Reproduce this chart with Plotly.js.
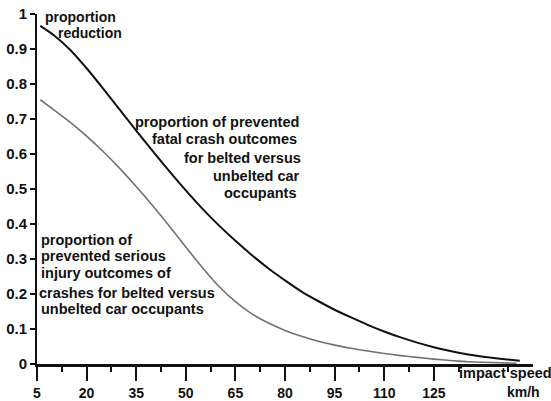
<!DOCTYPE html>
<html>
<head>
<meta charset="utf-8">
<script src="https://cdn.plot.ly/plotly-3.0.1.min.js"></script>
<style>html,body{margin:0;padding:0;background:#fff;}#chart{width:551px;height:401px;}</style>
</head>
<body>
<div id="chart"></div>
<script>
// Impact speed (km/h)
const speedFatal = [6, 10, 15, 20, 25, 30, 35, 40, 45, 50, 55, 60, 65, 70, 75, 80, 85, 90, 95, 100, 105, 110, 115, 120, 125, 130, 135, 140, 145, 151];
// proportion of prevented fatal crash outcomes (belted vs unbelted)
const fatalReduction = [0.966, 0.94, 0.898, 0.845, 0.787, 0.727, 0.667, 0.608, 0.551, 0.496, 0.444, 0.396, 0.352, 0.311, 0.273, 0.239, 0.207, 0.18, 0.155, 0.133, 0.112, 0.093, 0.076, 0.061, 0.048, 0.037, 0.028, 0.021, 0.015, 0.009];

const speedSerious = [6, 10, 15, 20, 25, 30, 35, 40, 45, 50, 55, 60, 65, 70, 75, 80, 85, 90, 95, 100, 105, 110, 115, 120, 125, 130, 135, 140, 145, 150];
// proportion of prevented serious injury outcomes (belted vs unbelted)
const seriousReduction = [0.755, 0.727, 0.691, 0.651, 0.607, 0.559, 0.507, 0.452, 0.394, 0.334, 0.276, 0.222, 0.178, 0.143, 0.117, 0.096, 0.079, 0.065, 0.054, 0.045, 0.037, 0.03, 0.024, 0.019, 0.014, 0.01, 0.0068, 0.005, 0.0035, 0.002];

const xTicks = [5, 20, 35, 50, 65, 80, 95, 110, 125];
const yTicks = [0, 0.1, 0.2, 0.3, 0.4, 0.5, 0.6, 0.7, 0.8, 0.9, 1];
const yTickLabels = ['0', '0.1', '0.2', '0.3', '0.4', '0.5', '0.6', '0.7', '0.8', '0.9', '1'];

const FONT = 'Liberation Sans, Arial, sans-serif';

const traces = [
  {x: speedFatal, y: fatalReduction, type: 'scatter', mode: 'lines',
   line: {color: '#111111', width: 2, shape: 'spline', smoothing: 0.6}, hoverinfo: 'skip'},
  {x: speedSerious, y: seriousReduction, type: 'scatter', mode: 'lines',
   line: {color: '#727272', width: 1.6, shape: 'spline', smoothing: 0.6}, hoverinfo: 'skip'}
];

// pixel -> paper fraction of the plot area (left 37, right 533, top 14, bottom 364)
const px2x = p => (p - 37) / 496;
const px2y = p => (364 - p) / 350;

function ann(text, px, py, xanchor, size) {
  return {text: text, x: px2x(px), y: px2y(py), xref: 'paper', yref: 'paper', xanchor: xanchor, yanchor: 'middle',
    showarrow: false, borderpad: 0, borderwidth: 0,
    font: {family: FONT, size: size, color: '#111', weight: 'bold'}};
}

const annotations = [
  ann('proportion', 45, 17, 'left', 14),
  ann('reduction', 58, 33, 'left', 14),
  ann('proportion of prevented', 299, 121.7, 'right', 14.5),
  ann('fatal crash outcomes', 297, 139.3, 'right', 14.5),
  ann('for belted versus', 301, 157.7, 'right', 14.5),
  ann('unbelted car', 300, 176, 'right', 14.5),
  ann('occupants', 297, 193.3, 'right', 14.5),
  ann('proportion of', 40.5, 240, 'left', 14.5),
  ann('prevented serious', 40.5, 255.7, 'left', 14.5),
  ann('injury outcomes of', 40.5, 273.3, 'left', 14.5),
  ann('crashes for belted versus', 39.3, 293.3, 'left', 14.5),
  ann('unbelted car occupants', 40.5, 309, 'left', 14.5),
  ann('impact speed', 459, 373.3, 'left', 14.5),
  ann('km/h', 506.7, 391.7, 'left', 14)
];

const layout = {
  width: 551, height: 401,
  margin: {l: 37, r: 18, t: 14, b: 37, pad: 0},
  paper_bgcolor: '#ffffff', plot_bgcolor: '#ffffff',
  showlegend: false,
  xaxis: {
    range: [5, 155], showgrid: false, zeroline: false,
    showline: true, linecolor: '#111', linewidth: 3,
    tickmode: 'array', tickvals: xTicks, ticktext: xTicks.map(String),
    ticks: 'outside', ticklen: 14, tickwidth: 2, tickcolor: '#111',
    tickfont: {family: FONT, size: 14, color: '#111', weight: 'bold'},
    minor: {tickmode: 'linear', tick0: 12.5, dtick: 15, ticks: 'outside', ticklen: 5, tickwidth: 2, tickcolor: '#111', showgrid: false},
    fixedrange: true
  },
  yaxis: {
    range: [0, 1], showgrid: false, zeroline: false,
    showline: true, linecolor: '#111', linewidth: 2,
    tickmode: 'array', tickvals: yTicks, ticktext: yTickLabels,
    ticks: 'outside', ticklen: 5, tickwidth: 2, tickcolor: '#111',
    tickfont: {family: FONT, size: 15, color: '#111', weight: 'bold'},
    fixedrange: true
  },
  annotations: annotations
};

Plotly.newPlot('chart', traces, layout, {displayModeBar: false, staticPlot: true});
</script>
</body>
</html>
